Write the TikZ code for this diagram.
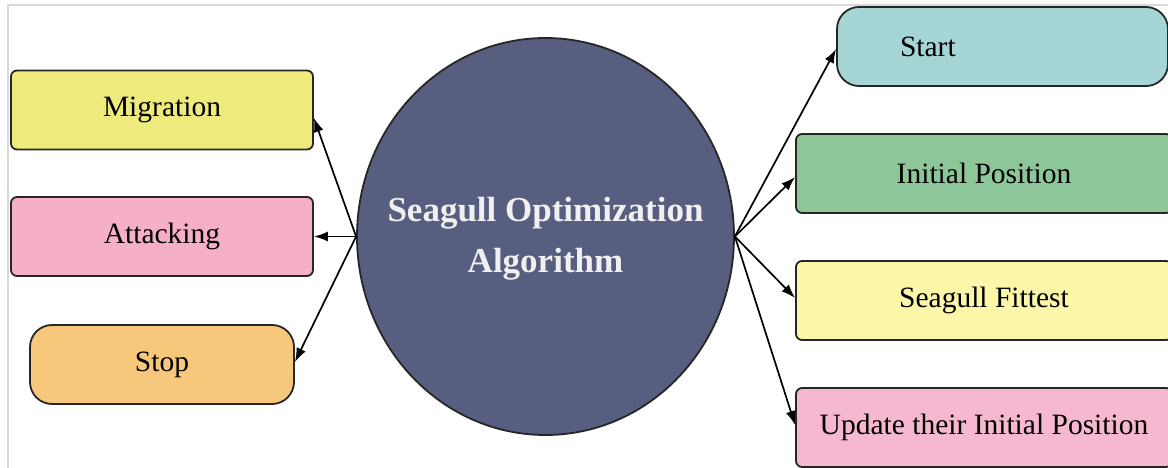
\documentclass[tikz,border=0pt]{standalone}
\usepackage{fontspec}
\setmainfont{Liberation Serif}
\usetikzlibrary{arrows.meta,shapes.geometric}

\definecolor{soaBlue}{HTML}{585E7F}
\definecolor{migYellow}{HTML}{EEEA7C}
\definecolor{attPink}{HTML}{F6AFC9}
\definecolor{stopOrange}{HTML}{F7C87C}
\definecolor{startTeal}{HTML}{A5D5D4}
\definecolor{initGreen}{HTML}{8DC699}
\definecolor{fitYellow}{HTML}{FCF6A8}
\definecolor{updPink}{HTML}{F6B8D0}

\begin{document}
\begin{tikzpicture}[x=1pt, y=-1pt,
  box/.style={draw=black!85, line width=1.8pt, rounded corners=6pt,
    minimum height=79pt, inner sep=0pt, font=\fontsize{29.5}{33}\selectfont},
  pill/.style={box, rounded corners=22pt},
  link/.style={-{Latex[length=14pt,width=10pt]}, line width=1.7pt}]

  \useasboundingbox (0,0) rectangle (1168,468);
  \draw[line width=2pt, color=black!15] (8,468) -- (8,5) -- (1168,5);

  \node[ellipse, draw=black!85, line width=1.8pt, fill=soaBlue,
    minimum width=377pt, minimum height=397pt, inner sep=0pt,
    text=white!94!black,
    font=\fontsize{35}{51}\selectfont\bfseries] (soa) at (545.5,236.5)
    {\makebox[0pt]{\begin{tabular}{@{}c@{}}Seagull Optimization\\Algorithm\end{tabular}}};

  % left side
  \node[box, fill=migYellow, minimum width=302pt] (mig) at (162,110) {Migration};
  \node[box, fill=attPink, minimum width=302pt] (att) at (162,236.5) {Attacking};
  \node[pill, fill=stopOrange, minimum width=264pt] (stop) at (162,364.5) {Stop};

  % right side
  \node[pill, fill=startTeal, inner xsep=63pt, text width=205pt, align=left]
    (start) at (1002.5,46.5) {Start};
  \node[box, fill=initGreen, minimum width=376pt] (init) at (984,173.5) {Initial Position};
  \node[box, fill=fitYellow, minimum width=376pt] (fit) at (984,300.5) {Seagull Fittest};
  \node[box, fill=updPink, minimum width=376pt] (upd) at (984,427.5) {Update their Initial Position};

  \draw[link] (soa.west) -- ([yshift=-8pt]mig.east);
  \draw[link] (soa.west) -- (att.east);
  \draw[link] (soa.west) -- ([yshift=2.5pt]stop.east);

  \draw[link] (soa.east) -- ([yshift=-2.5pt]start.west);
  \draw[link] (soa.east) -- ([yshift=-3.5pt]init.west);
  \draw[link] (soa.east) -- ([yshift=2.5pt]fit.west);
  \draw[link] (soa.east) -- ([yshift=2.5pt]upd.west);

\end{tikzpicture}
\end{document}
